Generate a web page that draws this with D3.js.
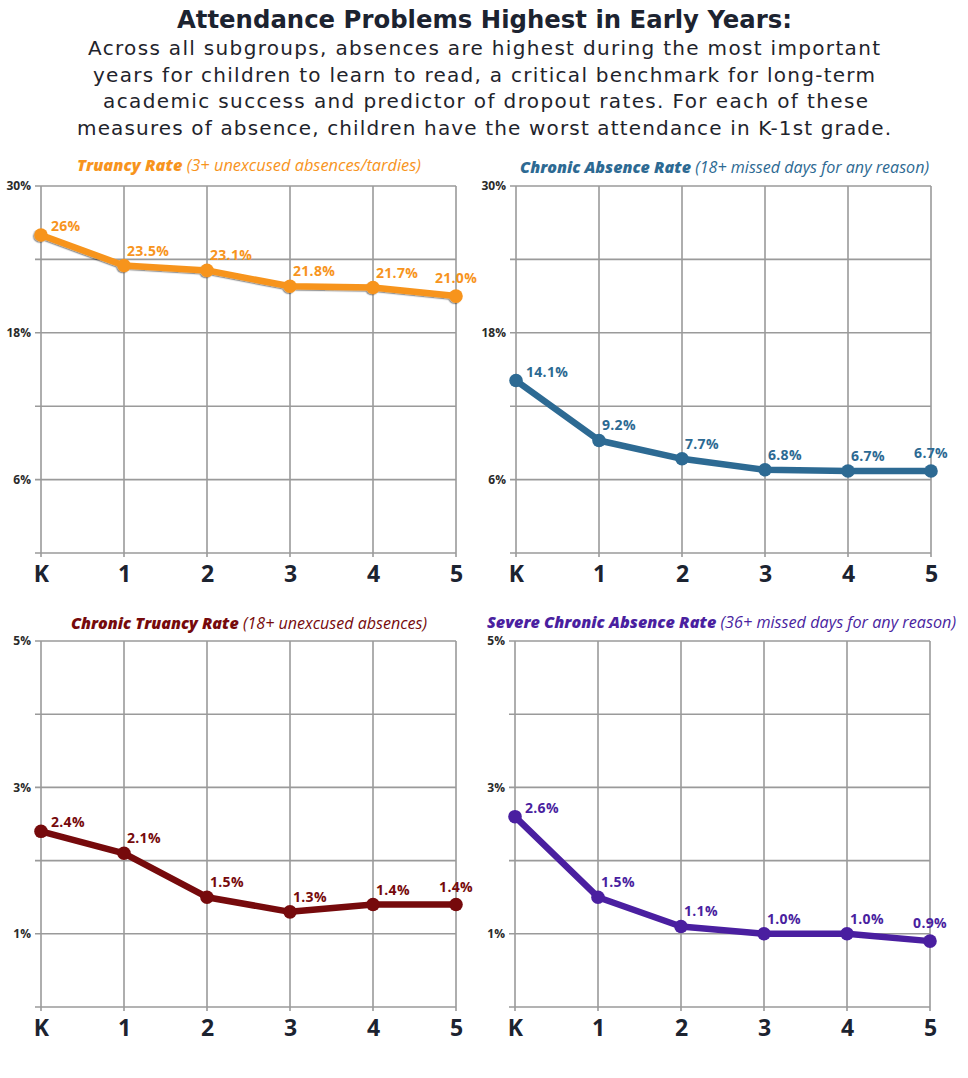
<!DOCTYPE html>
<html><head><meta charset="utf-8">
<script src="https://cdn.jsdelivr.net/npm/d3@7"></script>
<style>body{margin:0;background:#fff} svg{display:block;font-family:"Open Sans","Noto Sans",sans-serif}</style>
</head><body><svg id="c" width="968" height="1078"></svg>
<script>
// ---- data ----
const grades = ["K", "1", "2", "3", "4", "5"];
const truancyRate = [26, 23.5, 23.1, 21.8, 21.7, 21.0];
const truancyLabels = ["26%", "23.5%", "23.1%", "21.8%", "21.7%", "21.0%"];
const chronicAbsenceRate = [14.1, 9.2, 7.7, 6.8, 6.7, 6.7];
const chronicAbsenceLabels = ["14.1%", "9.2%", "7.7%", "6.8%", "6.7%", "6.7%"];
const chronicTruancyRate = [2.4, 2.1, 1.5, 1.3, 1.4, 1.4];
const chronicTruancyLabels = ["2.4%", "2.1%", "1.5%", "1.3%", "1.4%", "1.4%"];
const severeChronicRate = [2.6, 1.5, 1.1, 1.0, 1.0, 0.9];
const severeChronicLabels = ["2.6%", "1.5%", "1.1%", "1.0%", "1.0%", "0.9%"];
const topTickValues = [30, 18, 6];
const topGridValues = [30, 24, 18, 12, 6];
const bottomTickValues = [5, 3, 1];
const bottomGridValues = [5, 4, 3, 2, 1];
const titleText = "Attendance Problems Highest in Early Years:";
const subtitleLines = [
  "Across all subgroups, absences are highest during the most important",
  "years for children to learn to read, a critical benchmark for long-term",
  "academic success and predictor of dropout rates. For each of these",
  "measures of absence, children have the worst attendance in K-1st grade."
];

const svg = d3.select("#c");
const defs = svg.append("defs");
defs.append("filter").attr("id", "sh").attr("x", "-20%").attr("y", "-20%").attr("width", "140%").attr("height", "140%")
  .append("feDropShadow").attr("dx", -1.3).attr("dy", 1.2).attr("stdDeviation", 0.7)
  .attr("flood-color", "#000").attr("flood-opacity", 0.4);

function stretch(sel, target) {
  const w = sel.node().getComputedTextLength();
  if (w < target) sel.attr("textLength", target).attr("lengthAdjust", "spacing");
}
function fit(sel, target, maxFs) {
  const fs = parseFloat(sel.attr("font-size"));
  const w = sel.node().getComputedTextLength();
  let nf = fs * target / w;
  if (maxFs && nf > maxFs) nf = maxFs;
  sel.attr("font-size", nf.toFixed(2));
  stretch(sel, target);
}

// ---- header ----
const t = svg.append("text").attr("x", 484.5).attr("y", 28).attr("text-anchor", "middle")
  .attr("font-family", "'DejaVu Sans', sans-serif")
  .attr("font-size", 24).attr("font-weight", 700).attr("fill", "#1c2330").text(titleText);
fit(t, 615, 25);
const subW = [792, 782, 765, 814];
const subCx = [484, 484, 485.5, 484];
subtitleLines.forEach((s, i) => {
  const st = svg.append("text").attr("x", subCx[i]).attr("y", 55 + i * 26.5).attr("text-anchor", "middle")
    .attr("font-family", "'DejaVu Sans', sans-serif")
    .attr("font-size", 18.5).attr("font-weight", 400).attr("fill", "#1f242c").text(s);
  fit(st, subW[i], 20);
});

// ---- panels ----
const panels = [
  { name: "Truancy Rate", desc: " (3+ unexcused absences/tardies)", values: truancyRate, labels: truancyLabels,
    color: "#f7941d", x0: 41, x1: 456, yTop: 186, yBot: 553, max: 30, ticks: topTickValues, grid: topGridValues,
    tx: 77, tw: 344, ty: 171, shadow: true },
  { name: "Chronic Absence Rate", desc: " (18+ missed days for any reason)", values: chronicAbsenceRate, labels: chronicAbsenceLabels,
    color: "#2d6a93", x0: 516, x1: 931, yTop: 186, yBot: 553, max: 30, ticks: topTickValues, grid: topGridValues,
    tx: 520, tw: 409, ty: 173, shadow: false },
  { name: "Chronic Truancy Rate", desc: " (18+ unexcused absences)", values: chronicTruancyRate, labels: chronicTruancyLabels,
    color: "#760a0c", x0: 41, x1: 456, yTop: 641, yBot: 1007, max: 5, ticks: bottomTickValues, grid: bottomGridValues,
    tx: 71, tw: 356, ty: 629, shadow: false },
  { name: "Severe Chronic Absence Rate", desc: " (36+ missed days for any reason)", values: severeChronicRate, labels: severeChronicLabels,
    color: "#4a1fa0", x0: 515, x1: 930, yTop: 641, yBot: 1007, max: 5, ticks: bottomTickValues, grid: bottomGridValues,
    tx: 487, tw: 469, ty: 628, shadow: false }
];

const gridColor = "#9a9a9a";

panels.forEach(p => {
  const g = svg.append("g");
  const x = d3.scalePoint().domain(grades).range([p.x0, p.x1]);
  const y = d3.scaleLinear().domain([0, p.max]).range([p.yBot, p.yTop]);

  g.selectAll(".hg").data(p.grid).join("line")
    .attr("x1", p.x0 - 6).attr("x2", p.x1)
    .attr("y1", d => y(d)).attr("y2", d => y(d))
    .attr("stroke", gridColor).attr("stroke-width", 1.6);
  g.selectAll(".vg").data(grades).join("line")
    .attr("x1", d => x(d)).attr("x2", d => x(d))
    .attr("y1", p.yTop).attr("y2", p.yBot + 4)
    .attr("stroke", gridColor).attr("stroke-width", 1.6);

  const ya = d3.axisLeft(y).tickValues(p.ticks).tickFormat(d => d + "%").tickSize(0).tickPadding(10);
  const yg = g.append("g").attr("transform", `translate(${p.x0},0)`).call(ya);
  yg.select(".domain").remove();
  yg.selectAll("text").attr("font-size", 12).attr("font-weight", 700).attr("fill", "#2a2a2a")
    .attr("font-family", "'Open Sans', sans-serif");

  const xa = d3.axisBottom(x).tickSize(0).tickPadding(13);
  const xg = g.append("g").attr("transform", `translate(0,${p.yBot})`).call(xa);
  xg.select(".domain").remove();
  xg.selectAll("text").attr("font-size", 23).attr("font-weight", 700).attr("fill", "#1c2330")
    .attr("font-family", "'Open Sans', sans-serif");
  g.append("line").attr("x1", p.x0 - 6).attr("x2", p.x1).attr("y1", p.yBot).attr("y2", p.yBot)
    .attr("stroke", gridColor).attr("stroke-width", 1.6);

  const tt = g.append("text").attr("x", p.tx).attr("y", p.ty).attr("font-size", 13).attr("font-style", "italic")
    .attr("fill", p.color);
  tt.append("tspan").attr("font-weight", 800).text(p.name);
  tt.append("tspan").attr("font-weight", 400).text(p.desc);
  fit(tt, p.tw);

  const sg = g.append("g").attr("filter", p.shadow ? "url(#sh)" : null);
  const line = d3.line().x((d, i) => x(grades[i])).y(d => y(d));
  sg.append("path").datum(p.values).attr("d", line).attr("fill", "none")
    .attr("stroke", p.color).attr("stroke-width", 6.5).attr("stroke-linejoin", "round").attr("stroke-linecap", "round");
  sg.selectAll("circle").data(p.values).join("circle")
    .attr("cx", (d, i) => x(grades[i])).attr("cy", d => y(d)).attr("r", 6.8)
    .attr("fill", p.color);

  const n = p.values.length;
  g.selectAll(".vl").data(p.values).join("text")
    .attr("x", (d, i) => x(grades[i]) + (i === 0 ? 10 : i === n - 1 ? 0 : 3))
    .attr("y", (d, i) => y(d) + (i === 0 ? -4 : i === n - 1 ? -13 : -10))
    .attr("text-anchor", (d, i) => i === n - 1 ? "middle" : "start")
    .attr("font-size", 14).attr("font-weight", 700).attr("fill", p.color)
    .attr("letter-spacing", 0.3)
    .attr("font-family", "'Open Sans', sans-serif")
    .text((d, i) => p.labels[i]);
});
</script>
</body></html>
